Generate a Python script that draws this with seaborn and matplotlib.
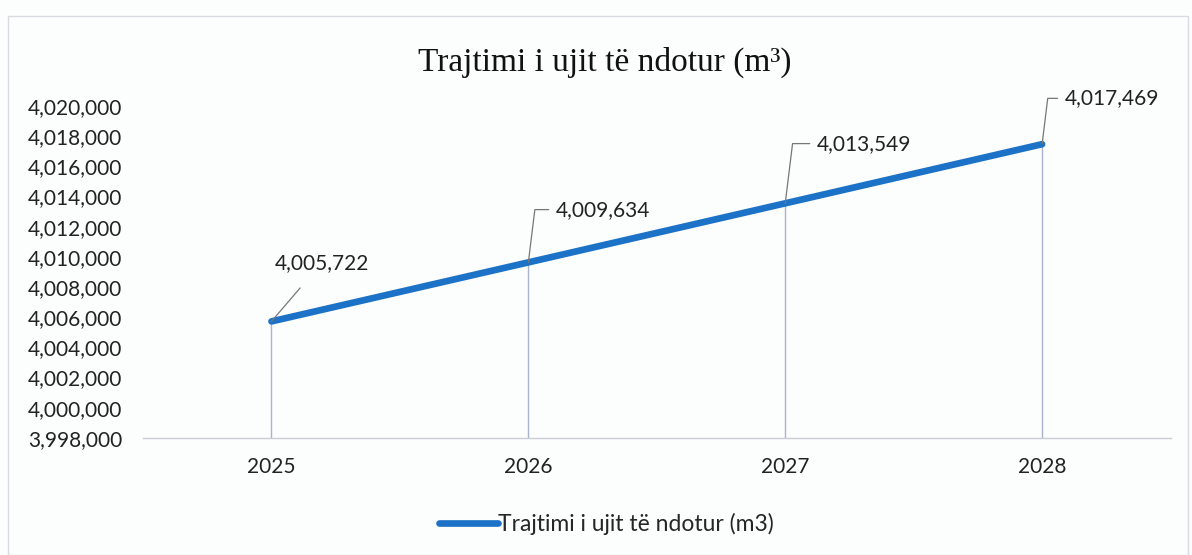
import matplotlib
matplotlib.use("Agg")
import matplotlib.pyplot as plt
import seaborn as sns
import numpy as np
import pandas as pd
from matplotlib.ticker import FuncFormatter
from matplotlib.patches import Rectangle

years = ["2025", "2026", "2027", "2028"]
values = [4005722, 4009634, 4013549, 4017469]
series_name = "Trajtimi i ujit të ndotur (m3)"
title = "Trajtimi i ujit të ndotur (m³)"
y_min, y_max, y_step = 3998000, 4020000, 2000

sns.set_theme(style="white")
plt.rcParams["font.family"] = ["Lato", "DejaVu Sans"]

fig = plt.figure(figsize=(11.92, 5.55), dpi=100, facecolor="#fcfdfd")
ax = fig.add_axes([0.120, 0.211, 0.862, 0.598])
ax.set_facecolor("none")

df = pd.DataFrame({"pos": np.arange(len(years)), "value": values, "series": series_name})

# drop lines
ax.vlines(df["pos"], y_min, df["value"], colors="#a9b4cc", linewidth=1.0, zorder=1)

sns.lineplot(data=df, x="pos", y="value", hue="series", palette=["#1c72c6"],
             linewidth=4.8, ax=ax, zorder=3, solid_capstyle="round")

ax.set_xlim(-0.5, len(years) - 0.5)
ax.set_ylim(y_min, y_max)
ax.set_yticks(np.arange(y_min, y_max + 1, y_step))
ax.yaxis.set_major_formatter(FuncFormatter(lambda v, p: f"{int(v):,}"))
ax.set_xticks(df["pos"])
ax.set_xticklabels(years)
ax.tick_params(axis="y", labelsize=15, length=0, pad=15, colors="#222222")
ax.tick_params(axis="x", labelsize=15, length=0, pad=14, colors="#222222")
ax.set_xlabel("")
ax.set_ylabel("")
for s in ["top", "right", "left"]:
    ax.spines[s].set_visible(False)
ax.spines["bottom"].set_color("#c8cdd8")
ax.spines["bottom"].set_linewidth(1.0)

# data labels with leader lines
offsets = [(36, 42), (20, 38), (23, 43), (16.5, 33)]
for i, (x, v) in enumerate(zip(df["pos"], values)):
    dx, dy = offsets[i]
    if i == 0:
        cs = "arc3"
        ha = "center"
    else:
        cs = "angle,angleA=180,angleB=83,rad=0"
        ha = "left"
    ax.annotate(f"{v:,}", xy=(x, v), xytext=(dx, dy),
                textcoords="offset points", ha=ha, va="center", fontsize=15,
                color="#222222",
                arrowprops=dict(arrowstyle="-", color="#777777", lw=0.9,
                                connectionstyle=cs, shrinkA=3 if i else 11, shrinkB=0))

fig.suptitle(title, x=0.507, y=0.915, fontsize=24, family=["Liberation Serif", "DejaVu Serif"],
             color="#111111")

leg = ax.legend(loc="upper center", bbox_to_anchor=(0.451, -0.163), frameon=False,
                fontsize=16.5, handlelength=2.6, handletextpad=0.0)
for line in leg.get_lines():
    line.set_linewidth(4.8)

fig.patches.append(Rectangle((0.007, 0.0), 0.99, 0.972, transform=fig.transFigure,
                             fill=False, edgecolor="#d8dbe0", linewidth=1.0))

fig.savefig("out.png", dpi=100, facecolor=fig.get_facecolor())
